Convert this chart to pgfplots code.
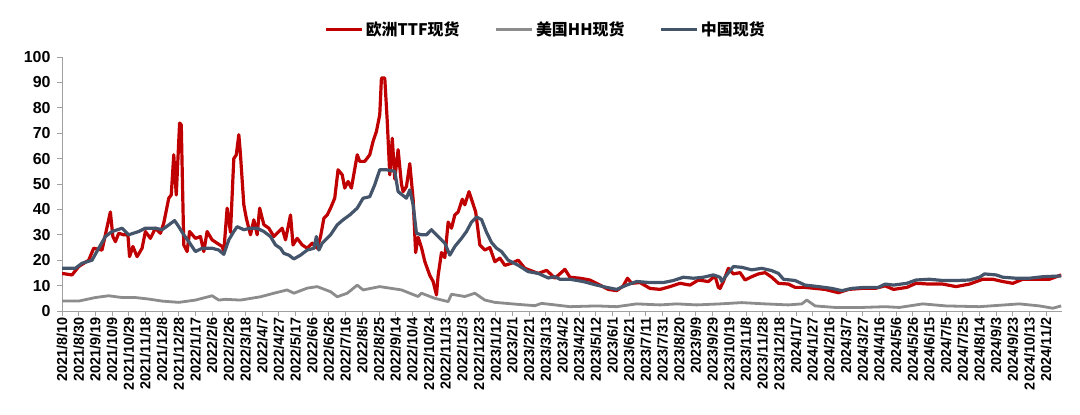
\documentclass[border=0pt]{standalone}
\usepackage{fontspec}
\setmainfont{Liberation Sans}
\newfontfamily\cjk{Noto Sans CJK SC}
\usepackage{pgfplots}
\pgfplotsset{compat=1.18}
\usepackage{pgfplotstable}
\definecolor{ttf}{HTML}{C00000}
\definecolor{hh}{HTML}{8C8C8C}
\definecolor{cn}{HTML}{44546A}
\definecolor{axgray}{HTML}{A0A0A0}

\pgfplotstableread{
day val
0 14.8
12 14.2
20 17.5
32 20
38 24.7
48 24
52 30
58 39
61 29.3
64 27.3
68 30.6
74 30
79 30
81 21.4
85 25.4
90 21.4
96 24.7
100 31.3
106 28.6
112 32.6
118 30.6
122 34.6
128 44.4
131 45.7
134 61.5
137 45.7
141 74
143 73.3
146 26
150 23.4
153 31.3
160 28.6
166 29.3
170 23.4
174 31.3
180 28
186 26.7
192 25.4
194 23.4
198 40.5
202 31
206 60
209 61.5
212 69.4
214 61.5
218 41.8
221 36.5
226 30
230 35.9
234 30
237 40.5
242 34
248 32.6
254 29.3
260 31.3
264 32.6
268 28
274 37.8
277 26
282 28.6
288 26
294 24.7
300 26.7
306 24.7
310 29.3
314 36.5
318 37.8
322 40.5
327 44.4
331 55.6
336 53.6
339 48.4
343 51
347 48.4
354 61.5
357 58.9
363 58.9
369 61.5
373 66.8
377 70.7
381 77.3
383 91.7
387 91.7
390 74.6
393 53.6
396 68
399 52
403 63.5
407 50
409 47
413 49
417 58
421 44
424 23
427 29
431 25
435 19.5
441 14
445 11.6
449 6.3
451 14
455 23
459 21
463 35
467 32.6
471 37.8
475 39
480 44
483 41.8
488 47
492 43
496 39
501 26
507 24
513 25
519 19.4
525 20.8
531 18
539 18.8
547 20
555 16.8
563 15.8
571 14.8
581 16
585 14.8
591 12.9
603 16.4
609 13.3
621 12.9
633 12.2
645 10.2
655 8.5
665 8
673 9.9
678 12.9
683 10.9
693 11.2
705 8.9
717 8.5
729 9.6
741 10.9
753 10.2
763 12.2
775 11.6
783 13.8
787 9.3
789 8.9
793 11.6
799 16.8
805 14.6
813 15.1
819 12.2
827 13.5
835 14.6
843 15.1
851 13.3
859 10.9
871 10.6
879 9.3
891 9.3
903 8.9
915 8.5
931 7.2
943 8.5
959 8.9
975 8.9
987 9.9
997 8.5
1013 9.3
1024 10.9
1040 10.6
1056 10.6
1072 9.6
1088 10.6
1104 12.5
1116 12.5
1128 11.6
1140 10.9
1152 12.5
1168 12.5
1184 12.5
1198 14.2
}\ttfdata

\pgfplotstableread{
day val
0 3.9
20 3.9
40 5.3
56 6
72 5.3
88 5.3
104 4.7
120 3.9
140 3.4
160 4.3
180 6
188 4.3
196 4.6
214 4.3
238 5.6
254 7
270 8.3
278 7
294 9
306 9.6
322 7.6
330 5.6
342 7
354 10.2
361 8.3
381 9.6
393 9
407 8.3
427 5.7
431 7
447 5
463 3.7
467 6.6
483 5.7
495 7
507 4.3
519 3.4
547 2.6
567 2.1
575 3
591 2.4
609 1.7
641 2
665 1.7
689 2.8
717 2.4
737 2.8
761 2.4
789 2.8
815 3.3
843 2.8
871 2.4
887 2.8
893 4.3
903 2
927 1.4
959 1.4
987 1.7
1004 1.4
1032 2.8
1060 2
1100 1.7
1148 2.8
1172 2
1188 1.1
1198 2
}\hhdata

\pgfplotstableread{
day val
0 16.8
16 16.8
24 18.8
36 20
44 24.7
52 29.3
60 31.3
72 32.6
80 30
92 31.3
100 32.6
112 32.6
120 32
128 33.9
135 35.6
140 33.2
146 30
152 27.3
160 23.4
168 24.7
180 24.7
188 24
194 22.3
200 28
206 31.3
210 33.2
218 32
226 32.6
234 32.6
242 31.3
250 29.3
256 26
262 24.7
266 22.7
272 22
278 20.5
286 22
294 24
302 24.7
305 29.3
308 24
312 26.7
322 30
330 33.9
337 35.9
345 37.8
354 40.5
361 44.4
369 45
375 49.7
381 55.6
389 55.6
399 55
403 47
413 44.4
417 47.7
421 41.8
425 30.6
431 30
437 30
443 32
451 29.3
459 26.7
465 22
471 25.4
479 28.6
485 31.3
491 35
497 37
503 36
509 31
515 27
521 24.7
527 23.4
535 20
547 18
559 15.5
571 14.8
583 13
591 13.5
597 12.5
609 12.5
625 11.6
641 10.2
653 9.3
665 8.5
677 10.2
689 11.6
705 11.2
721 11.2
733 12
745 13.3
757 12.9
769 13.3
781 14.2
789 13.3
791 11.6
797 14.2
805 17.5
815 17.2
827 16.2
839 16.8
851 15.9
859 14.8
865 12.5
879 12
891 10.2
907 9.6
923 8.9
935 8
947 8.9
963 9.3
979 9.3
987 10.6
997 10.2
1013 10.9
1024 12.2
1040 12.5
1056 12
1072 12
1088 12.2
1100 13.3
1106 14.6
1120 14.2
1128 13.3
1144 12.9
1160 12.9
1176 13.5
1198 13.8
}\cndata

\begin{document}
\begin{tikzpicture}
\path[use as bounding box] (-62bp,-104bp) rectangle (1018bp,311bp);
\begin{axis}[
  at={(0,0)}, anchor=south west,
  scale only axis, width=1000bp, height=254bp,
  xmin=0, xmax=1199, ymin=0, ymax=100,
  axis x line=bottom, axis y line=left,
  axis line style={-, axgray, line width=1bp},
  xtick={0,20,...,1180},
  xticklabels={2021/8/10,2021/8/30,2021/9/19,2021/10/9,2021/10/29,2021/11/18,2021/12/8,2021/12/28,2022/1/17,2022/2/6,2022/2/26,2022/3/18,2022/4/7,2022/4/27,2022/5/17,2022/6/6,2022/6/26,2022/7/16,2022/8/5,2022/8/25,2022/9/14,2022/10/4,2022/10/24,2022/11/13,2022/12/3,2022/12/23,2023/1/12,2023/2/1,2023/2/21,2023/3/13,2023/4/2,2023/4/22,2023/5/12,2023/6/1,2023/6/21,2023/7/11,2023/7/31,2023/8/20,2023/9/9,2023/9/29,2023/10/19,2023/11/8,2023/11/28,2023/12/18,2024/1/7,2024/1/27,2024/2/16,2024/3/7,2024/3/27,2024/4/16,2024/5/6,2024/5/26,2024/6/15,2024/7/5,2024/7/25,2024/8/14,2024/9/3,2024/9/23,2024/10/13,2024/11/2},
  ytick={0,10,...,100},
  tick align=outside, major tick length=5bp,
  tick style={axgray, line width=0.8bp},
  xticklabel style={rotate=90, anchor=east, inner sep=1.5bp, font=\bfseries\fontsize{14.5}{14.5}\selectfont},
  yticklabel style={xshift=-3bp, font=\bfseries\fontsize{16}{16}\selectfont},
  /pgf/number format/assume math mode=true,
  legend columns=3,
  legend cell align=left,
  legend style={at={(0.483,1.108)}, anchor=center, draw=none, fill=none,
    font=\cjk\bfseries\fontsize{16}{16}\selectfont,
    nodes={inner xsep=1bp},
    /tikz/every odd column/.append style={column sep=1bp},
    /tikz/every even column/.append style={column sep=34bp}},
  legend image code/.code={\draw[#1, line width=3.5bp] (0bp,0bp) -- (36bp,0bp);},
  every axis plot/.append style={line join=round, no markers},
]
\addplot[ttf, line width=3.2bp] table[x=day,y=val] {\ttfdata};
\addlegendentry{欧洲TTF现货}
\addplot[hh, line width=2.8bp] table[x=day,y=val] {\hhdata};
\addlegendentry{美国HH现货}
\addplot[cn, line width=3.2bp] table[x=day,y=val] {\cndata};
\addlegendentry{中国现货}
\end{axis}
\end{tikzpicture}
\end{document}
